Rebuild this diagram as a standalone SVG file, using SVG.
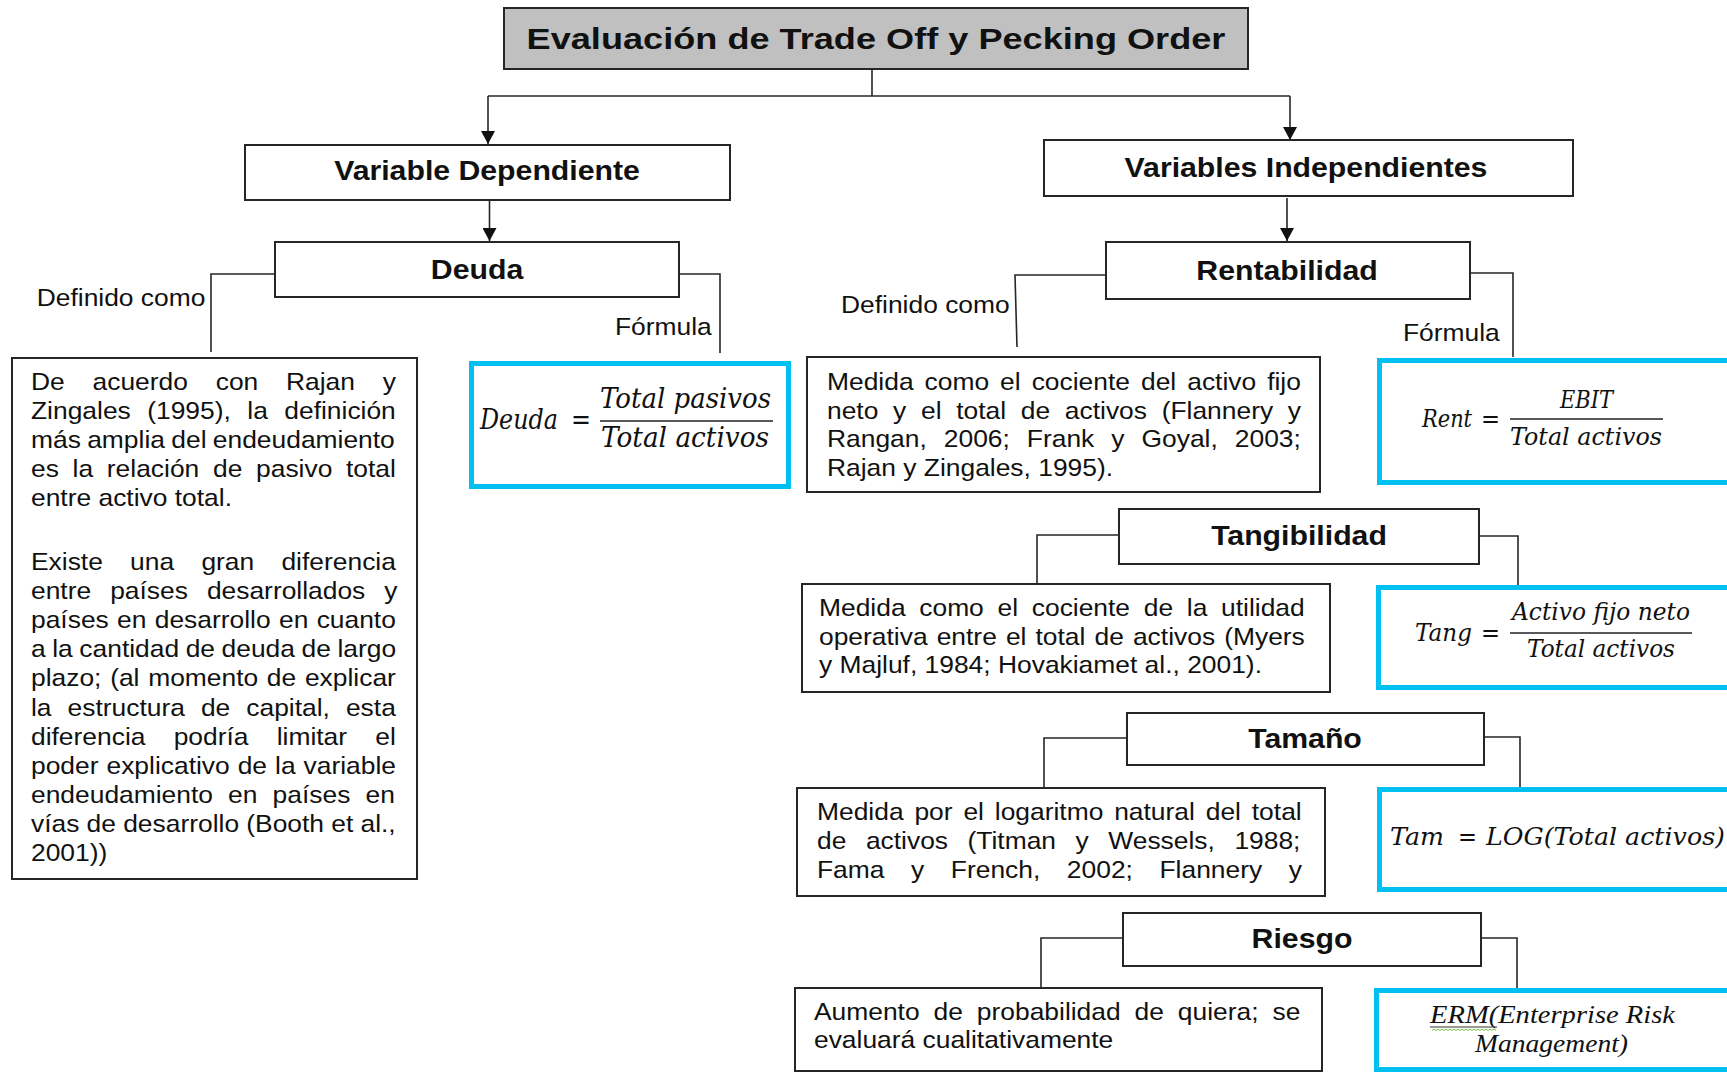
<svg xmlns="http://www.w3.org/2000/svg" width="1727" height="1073" viewBox="0 0 1727 1073">
<style>
.box{fill:#fff;stroke:#262626;stroke-width:2}
.title{fill:#c0c0c0;stroke:#262626;stroke-width:2}
.blue{fill:#fff;stroke:#00c0f2;stroke-width:5}
.con{fill:none;stroke:#262626;stroke-width:1.6}
.hd{font-family:"Liberation Sans",Arial,sans-serif;font-weight:bold;font-size:28px;fill:#111;text-anchor:middle}
.tx{font-family:"Liberation Sans",Arial,sans-serif;font-size:24px;fill:#111}
.m{font-family:"DejaVu Serif",serif;font-style:italic;font-size:25px;fill:#111}
.eq{font-family:"DejaVu Serif",serif;font-size:25px;fill:#111}
.erm{font-family:"Liberation Serif",serif;font-style:italic;font-size:25px;fill:#111}
.bar{stroke:#222;stroke-width:1.6}
</style>
<defs>
<marker id="ah" viewBox="0 0 13 14" refX="13" refY="7" markerWidth="13" markerHeight="14" markerUnits="userSpaceOnUse" orient="auto">
<path d="M0 0 L13 7 L0 14 Z" fill="#111"/>
</marker>
</defs>
<rect width="1727" height="1073" fill="#fff"/>

<g id="connectors">
<path class="con" d="M872 69 V96 M488 96 H1290"/>
<path class="con" d="M488 96 V144" marker-end="url(#ah)"/>
<path class="con" d="M1290 96 V140" marker-end="url(#ah)"/>
<path class="con" d="M489.5 200 V241" marker-end="url(#ah)"/>
<path class="con" d="M1287 198 V241" marker-end="url(#ah)"/>
<path class="con" d="M275 274 H211 V352"/>
<path class="con" d="M679 274 H720 V353"/>
<path class="con" d="M1106 275 H1015 L1017 347"/>
<path class="con" d="M1470 273 H1513 V357"/>
<path class="con" d="M1119 535 H1037 V584"/>
<path class="con" d="M1479 536 H1518 V585"/>
<path class="con" d="M1127 738 H1044 V788"/>
<path class="con" d="M1484 737 H1520 V787"/>
<path class="con" d="M1123 938 H1041 V988"/>
<path class="con" d="M1481 938 H1517 V988"/>
<g class="tx">
<text transform="translate(36.7 306) scale(1.1 1)">Definido como</text>
<text transform="translate(615 335) scale(1.1 1)">Fórmula</text>
<text transform="translate(841 313) scale(1.1 1)">Definido como</text>
<text transform="translate(1403 341) scale(1.1 1)">Fórmula</text>
</g>
</g>

<g id="title">
<rect class="title" x="504" y="8" width="744" height="61"/>
<g transform="translate(876 0) scale(1.205 1)"><text class="hd" y="49" style="font-size:30px">Evaluación de Trade Off y Pecking Order</text></g>
</g>

<g id="var-dep">
<rect class="box" x="245" y="145" width="485" height="55"/>
<g transform="translate(487 0) scale(1.08 1)"><text class="hd" y="180">Variable Dependiente</text></g>
</g>

<g id="deuda">
<rect class="box" x="275" y="242" width="404" height="55"/>
<g transform="translate(477 0) scale(1.08 1)"><text class="hd" y="279">Deuda</text></g>
</g>

<g id="deuda-def">
<rect class="box" x="12" y="358" width="405" height="521"/>
<g class="tx" transform="translate(31 0) scale(1.1 1)">
<text y="390" style="word-spacing:18.6px">De acuerdo con Rajan y</text>
<text y="419" style="word-spacing:8.3px">Zingales (1995), la definición</text>
<text y="448" style="word-spacing:-0.9px">más amplia del endeudamiento</text>
<text y="477" style="word-spacing:5.8px">es la relación de pasivo total</text>
<text y="506">entre activo total.</text>
<text y="570" style="word-spacing:18.1px">Existe una gran diferencia</text>
<text y="599" style="word-spacing:10.6px">entre países desarrollados y</text>
<text y="628" style="word-spacing:0.9px">países en desarrollo en cuanto</text>
<text y="657" style="word-spacing:-0.7px">a la cantidad de deuda de largo</text>
<text y="686" style="word-spacing:1.25px">plazo; (al momento de explicar</text>
<text y="716" style="word-spacing:7.9px">la estructura de capital, esta</text>
<text y="745" style="word-spacing:19px">diferencia podría limitar el</text>
<text y="774" style="word-spacing:0.6px">poder explicativo de la variable</text>
<text y="803" style="word-spacing:7.1px">endeudamiento en países en</text>
<text y="832" style="word-spacing:-0.1px">vías de desarrollo (Booth et al.,</text>
<text y="861">2001))</text>
</g>
</g>

<g id="deuda-formula">
<rect class="blue" x="471.5" y="363.5" width="317" height="123"/>
<text class="m" x="480" y="429" textLength="78" lengthAdjust="spacingAndGlyphs" style="font-size:27px">Deuda</text>
<text class="eq" x="571" y="429" textLength="20" lengthAdjust="spacingAndGlyphs" style="font-size:27px">=</text>
<line class="bar" x1="600" y1="421" x2="773" y2="421"/>
<text class="m" x="600" y="408" textLength="171" lengthAdjust="spacingAndGlyphs" style="font-size:27px">Total pasivos</text>
<text class="m" x="601" y="447" textLength="168" lengthAdjust="spacingAndGlyphs" style="font-size:27px">Total activos</text>
</g>

<g id="var-indep">
<rect class="box" x="1044" y="140" width="529" height="56"/>
<g transform="translate(1306 0) scale(1.08 1)"><text class="hd" y="177">Variables Independientes</text></g>
</g>

<g id="rentabilidad">
<rect class="box" x="1106" y="242" width="364" height="57"/>
<g transform="translate(1287 0) scale(1.08 1)"><text class="hd" y="280">Rentabilidad</text></g>
</g>

<g id="rent-def">
<rect class="box" x="807" y="357" width="513" height="135"/>
<g class="tx" transform="translate(827 0) scale(1.1 1)">
<text y="390" style="word-spacing:3.35px">Medida como el cociente del activo fijo</text>
<text y="419" style="word-spacing:6.7px">neto y el total de activos (Flannery y</text>
<text y="447" style="word-spacing:8.8px">Rangan, 2006; Frank y Goyal, 2003;</text>
<text y="476">Rajan y Zingales, 1995).</text>
</g>
</g>

<g id="rent-formula">
<rect class="blue" x="1379.5" y="360.5" width="360" height="122"/>
<text class="m" x="1422" y="427" textLength="50" lengthAdjust="spacingAndGlyphs">Rent</text>
<text class="eq" x="1481" y="427" textLength="19" lengthAdjust="spacingAndGlyphs">=</text>
<line class="bar" x1="1510" y1="419" x2="1663" y2="419"/>
<text class="m" x="1560" y="408" textLength="53" lengthAdjust="spacingAndGlyphs">EBIT</text>
<text class="m" x="1510" y="445" textLength="152" lengthAdjust="spacingAndGlyphs">Total activos</text>
</g>

<g id="tangibilidad">
<rect class="box" x="1119" y="509" width="360" height="55"/>
<g transform="translate(1299 0) scale(1.08 1)"><text class="hd" y="545">Tangibilidad</text></g>
</g>

<g id="tang-def">
<rect class="box" x="802" y="584" width="528" height="108"/>
<g class="tx" transform="translate(819 0) scale(1.1 1)">
<text y="616" style="word-spacing:5.8px">Medida como el cociente de la utilidad</text>
<text y="645" style="word-spacing:1.6px">operativa entre el total de activos (Myers</text>
<text y="673">y Majluf, 1984; Hovakiamet al., 2001).</text>
</g>
</g>

<g id="tang-formula">
<rect class="blue" x="1378.5" y="587.5" width="360" height="100"/>
<text class="m" x="1415" y="641" textLength="57" lengthAdjust="spacingAndGlyphs">Tang</text>
<text class="eq" x="1481" y="641" textLength="19" lengthAdjust="spacingAndGlyphs">=</text>
<line class="bar" x1="1510" y1="633" x2="1692" y2="633"/>
<text class="m" x="1512" y="620" textLength="178" lengthAdjust="spacingAndGlyphs">Activo fijo neto</text>
<text class="m" x="1527" y="657" textLength="148" lengthAdjust="spacingAndGlyphs">Total activos</text>
</g>

<g id="tamano">
<rect class="box" x="1127" y="713" width="357" height="52"/>
<g transform="translate(1305 0) scale(1.08 1)"><text class="hd" y="748">Tamaño</text></g>
</g>

<g id="tam-def">
<rect class="box" x="797" y="788" width="528" height="108"/>
<g class="tx" transform="translate(817 0) scale(1.1 1)">
<text y="820" style="word-spacing:3.2px">Medida por el logaritmo natural del total</text>
<text y="849" style="word-spacing:11.1px">de activos (Titman y Wessels, 1988;</text>
<text y="878" style="word-spacing:17.5px">Fama y French, 2002; Flannery y</text>
</g>
</g>

<g id="tam-formula">
<rect class="blue" x="1379.5" y="789.5" width="360" height="100"/>
<text class="m" x="1390" y="845" textLength="54" lengthAdjust="spacingAndGlyphs">Tam</text>
<text class="eq" x="1458" y="845" textLength="19" lengthAdjust="spacingAndGlyphs">=</text>
<text class="m" x="1486" y="845" textLength="239" lengthAdjust="spacingAndGlyphs">LOG(Total activos)</text>
</g>

<g id="riesgo">
<rect class="box" x="1123" y="913" width="358" height="53"/>
<g transform="translate(1302 0) scale(1.08 1)"><text class="hd" y="948">Riesgo</text></g>
</g>

<g id="riesgo-def">
<rect class="box" x="795" y="988" width="527" height="83"/>
<g class="tx" transform="translate(814 0) scale(1.1 1)">
<text y="1020" style="word-spacing:6px">Aumento de probabilidad de quiera; se</text>
<text y="1048">evaluará cualitativamente</text>
</g>
</g>

<g id="riesgo-formula">
<rect class="blue" x="1376.5" y="990.5" width="360" height="79"/>
<text class="erm" x="1430" y="1023" textLength="245" lengthAdjust="spacingAndGlyphs">ERM(Enterprise Risk</text>
<text class="erm" x="1475" y="1052" textLength="153" lengthAdjust="spacingAndGlyphs">Management)</text>
<line x1="1430" y1="1027" x2="1497" y2="1027" stroke="#333" stroke-width="1"/>
<path d="M1432 1030.5 l2 -1.5 l2 1.5 l2 -1.5 l2 1.5 l2 -1.5 l2 1.5 l2 -1.5 l2 1.5 l2 -1.5 l2 1.5 l2 -1.5 l2 1.5 l2 -1.5 l2 1.5 l2 -1.5 l2 1.5 l2 -1.5 l2 1.5 l2 -1.5 l2 1.5 l2 -1.5 l2 1.5 l2 -1.5 l2 1.5 l2 -1.5 l2 1.5 l2 -1.5 l2 1.5 l2 -1.5 l2 1.5 l2 -1.5 l2 1.5" fill="none" stroke="#6fbf40" stroke-width="1"/>
</g>
</svg>
